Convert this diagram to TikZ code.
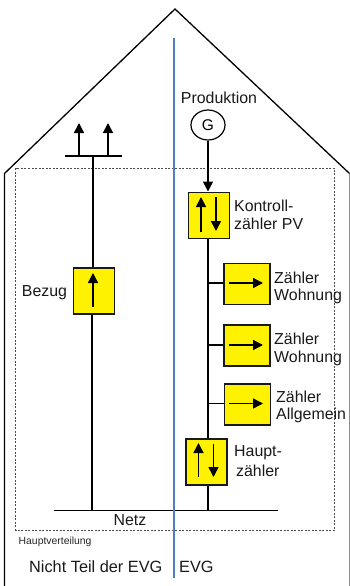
\documentclass[tikz,border=0pt]{standalone}
\usepackage{fontspec}
\setmainfont{Liberation Sans}
\usetikzlibrary{arrows.meta,shapes.geometric}
\definecolor{divblue}{RGB}{79,129,189}
\tikzset{
  meter/.style={draw=black!90!white,line width=1.7pt,fill=yellow,inner sep=0pt,anchor=north west},
  wire/.style={line width=1.6pt,black},
  arr/.style={line width=1.5pt,-{Triangle[length=10pt,width=10pt]}},
  lbl/.style={font=\fontsize{15.9}{18}\selectfont,inner sep=0pt,text=black!90},
  lblw/.style={lbl,anchor=west},
}
\begin{document}
\begin{tikzpicture}[x=1pt,y=-1pt]
\useasboundingbox (0,0) rectangle (350,586);
% house
\coordinate (wl) at (4.5,586);
\coordinate (el) at (4.5,173.5);
\coordinate (apex) at (175,9);
\coordinate (er) at (349.5,173.5);
\coordinate (wr) at (349.5,586);
\draw[line width=1.3pt] (wl) -- (el) -- (apex) -- (er);
\draw[line width=1pt,black!45] (er) -- (wr);
% Hauptverteilung
\draw[line width=0.7pt,black!70,dash pattern=on 2pt off 1.5pt] (15.5,168) rectangle (334.5,530);
% bars
\coordinate (netzL) at (54,510.5);
\coordinate (netzR) at (278,510.5);
\coordinate (antL) at (65,156);
\coordinate (antR) at (122,156);
\coordinate (a1) at (79,156);
\coordinate (a2) at (108,156);
\coordinate (a1t) at (79,123);
\coordinate (a2t) at (108,123);
\coordinate (antM) at (93,156);
\coordinate (n1) at (92,510.5);
\coordinate (n2) at (208,510.5);
\draw[wire] (netzL) -- (netzR);
\draw[wire] (antL) -- (antR);
\draw[arr] (a1) -- (a1t);
\draw[arr] (a2) -- (a2t);
% meters
\node[meter,minimum width=41pt,minimum height=46pt] (bez) at (72.5,267) {};
\node[meter,minimum width=41pt,minimum height=46pt] (kon) at (187.5,191.5) {};
\node[meter,minimum width=46pt,minimum height=41pt] (w1) at (223,262.5) {};
\node[meter,minimum width=46pt,minimum height=41pt] (w2) at (223,324) {};
\node[meter,minimum width=46pt,minimum height=41pt] (w3) at (223.5,383) {};
\node[meter,minimum width=41pt,minimum height=46pt] (hau) at (185,438) {};
\node[draw,line width=1.2pt,ellipse,minimum width=34pt,minimum height=30pt,inner sep=0pt,font=\fontsize{15.5}{18}\selectfont] (gen) at (208,125) {G};
% wires
\draw[wire] (antM) -- (bez.north -| antM);
\draw[wire] (bez.south -| n1) -- (n1);
\draw[arr] (gen) -- (kon.north -| gen);
\draw[wire] (kon.south -| n2) -- (hau.north -| n2);
\draw[wire] (hau.south -| n2) -- (n2);
\coordinate (b1) at (208,283);
\coordinate (b2) at (208,345);
\coordinate (b3) at (208,403.5);
\draw[wire] (b1) -- (w1.west |- b1);
\draw[wire] (b2) -- (w2.west |- b2);
\draw[line width=1pt] (b3) -- (w3.west |- b3);
% arrows inside
\draw[arr] (93,307) -- (93,273);
\draw[arr] (201,232) -- (201,197);
\draw[arr] (216,197) -- (216,231);
\draw[arr] (198.5,477) -- (198.5,443);
\draw[arr] (213.5,444) -- (213.5,477);
\draw[arr] (229,283) -- (263,283);
\draw[arr] (229,345) -- (263,345);
\draw[arr] (229,403.5) -- (263,403.5);
% blue divider
\coordinate (bt) at (174,38);
\coordinate (bb) at (174,578);
\draw[line width=2pt,draw=divblue] (bt) -- (bb);
% labels
\node[lbl] (tp) at (219,98) {Produktion};
\node[lblw] (tk1) at (234,205.5) {Kontroll-};
\node[lblw] (tk2) at (234,223.5) {zähler PV};
\node[lblw] (tw1) at (274,278) {Zähler};
\node[lblw] (tw2) at (274,296.5) {Wohnung};
\node[lblw] (tw3) at (274,339) {Zähler};
\node[lblw] (tw4) at (274,358) {Wohnung};
\node[lblw] (ta1) at (276,397) {Zähler};
\node[lblw] (ta2) at (276,415.5) {Allgemein};
\node[lblw] (th1) at (234,453) {Haupt-};
\node[lblw] (th2) at (236,471) {zähler};
\node[lbl] (tb) at (44.5,293) {Bezug};
\node[lbl] (tn) at (130,520) {Netz};
\node[font=\fontsize{10.4}{12}\selectfont,inner sep=0pt,anchor=west,text=black!85] (thv) at (18.5,542) {Hauptverteilung};
\node[lblw,font=\fontsize{16.3}{19}\selectfont] (tnt) at (29,566.5) {Nicht Teil der EVG};
\node[lblw,font=\fontsize{16.3}{19}\selectfont] (tev) at (179,566.5) {EVG};
\end{tikzpicture}
\end{document}
